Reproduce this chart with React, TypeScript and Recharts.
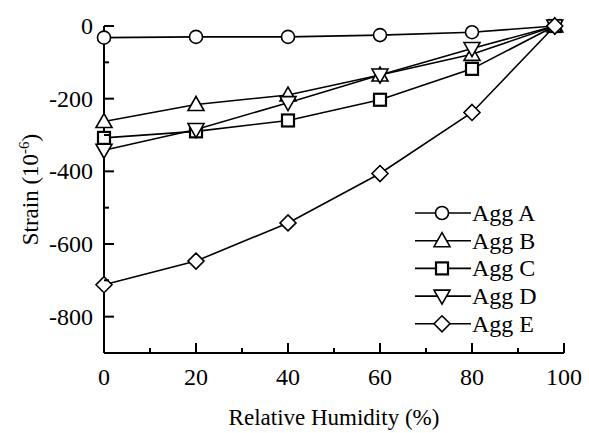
import React from 'react';
import { LineChart, Line, XAxis, YAxis } from 'recharts';

const humidity = [0, 20, 40, 60, 80, 98];
const aggA = [-32, -30, -30, -25, -17, 0];
const aggB = [-263, -216, -190, -135, -78, 0];
const aggC = [-308, -290, -260, -203, -118, 0];
const aggD = [-342, -285, -211, -135, -62, 0];
const aggE = [-712, -647, -542, -406, -238, 0];

const seriesNames = ['Agg A', 'Agg B', 'Agg C', 'Agg D', 'Agg E'];
const seriesShapes = ['circle', 'triangle', 'square', 'down', 'diamond'];
const xTicks = [0, 10, 20, 30, 40, 50, 60, 70, 80, 90, 100];
const yTicks = [0, -100, -200, -300, -400, -500, -600, -700, -800, -900];

const data = humidity.map((h, i) => ({
  h,
  a: aggA[i],
  b: aggB[i],
  c: aggC[i],
  d: aggD[i],
  e: aggE[i],
}));
const keys = ['a', 'b', 'c', 'd', 'e'];

const FONT = 'Liberation Serif, Times New Roman, serif';

function Marker({ cx, cy, shape }: { cx: number; cy: number; shape: string }) {
  const p = { fill: '#fff', stroke: '#000', strokeWidth: 1.6 };
  if (shape === 'circle') return <circle cx={cx} cy={cy} r={6.5} {...p} />;
  if (shape === 'square')
    return <rect x={cx - 6} y={cy - 6} width={12} height={12} {...p} strokeWidth={2.2} />;
  if (shape === 'triangle')
    return <polygon points={`${cx},${cy - 8} ${cx - 8},${cy + 6} ${cx + 8},${cy + 6}`} {...p} />;
  if (shape === 'down')
    return <polygon points={`${cx},${cy + 8} ${cx - 8},${cy - 6} ${cx + 8},${cy - 6}`} {...p} />;
  return <polygon points={`${cx},${cy - 8} ${cx + 8},${cy} ${cx},${cy + 8} ${cx - 8},${cy}`} {...p} />;
}

const isMajorX = (v: number) => v % 20 === 0;
const isMajorY = (v: number) => v % 200 === 0;

function BottomTick(props: any) {
  const { x, y, payload } = props;
  const major = isMajorX(payload.value);
  return (
    <g>
      <line x1={x} x2={x} y1={y} y2={y - (major ? 10 : 5)} stroke="#000" strokeWidth={2} />
      {major && (
        <text x={x} y={y + 32} textAnchor="middle" fontFamily={FONT} fontSize={24} fill="#000">
          {payload.value}
        </text>
      )}
    </g>
  );
}

function TopTick(props: any) {
  const { x, y, payload } = props;
  const major = isMajorX(payload.value);
  return <line x1={x} x2={x} y1={y} y2={y + (major ? 10 : 5)} stroke="#000" strokeWidth={2} />;
}

function LeftTick(props: any) {
  const { x, y, payload } = props;
  const major = isMajorY(payload.value);
  return (
    <g>
      <line x1={x} x2={x + (major ? 10 : 5)} y1={y} y2={y} stroke="#000" strokeWidth={2} />
      {major && (
        <text x={x - 11} y={y + 8} textAnchor="end" fontFamily={FONT} fontSize={24} fill="#000">
          {payload.value}
        </text>
      )}
    </g>
  );
}

function RightTick(props: any) {
  const { x, y, payload } = props;
  const major = isMajorY(payload.value);
  return <line x1={x} x2={x - (major ? 10 : 5)} y1={y} y2={y} stroke="#000" strokeWidth={2} />;
}

function YTitle(props: any) {
  const vb = props.viewBox;
  const cx = 30;
  const cy = vb.y + vb.height / 2;
  return (
    <text
      transform={`translate(${cx},${cy}) rotate(-90)`}
      textAnchor="middle"
      fontFamily={FONT}
      fontSize={23}
      fill="#000"
      dy={8}
    >
      Strain (10
      <tspan fontSize={15} dy={-9}>-6</tspan>
      <tspan dy={9}>)</tspan>
    </text>
  );
}

function XTitle(props: any) {
  const vb = props.viewBox;
  return (
    <text
      x={vb.x + vb.width / 2}
      y={vb.y + 72}
      textAnchor="middle"
      fontFamily={FONT}
      fontSize={23}
      fill="#000"
    >
      Relative Humidity (%)
    </text>
  );
}

function LegendBox() {
  return (
    <svg
      width={160}
      height={145}
      style={{ position: 'absolute', left: 412, top: 199, overflow: 'visible' }}
    >
      {seriesNames.map((name, i) => {
        const y = 14 + i * 27.7;
        return (
          <g key={name}>
            <line x1={3} x2={59} y1={y} y2={y} stroke="#000" strokeWidth={1.6} />
            <Marker cx={30} cy={y} shape={seriesShapes[i]} />
            <text x={60} y={y + 8} fontFamily={FONT} fontSize={24} fill="#000">
              {name}
            </text>
          </g>
        );
      })}
    </svg>
  );
}

export default function App() {
  return (
    <div style={{ position: 'absolute', left: 0, top: 0, width: 589, height: 433, background: '#fff' }}>
      <LineChart
        width={589}
        height={433}
        data={data}
        margin={{ top: 26, right: 25, bottom: 0, left: 0 }}
      >
        <XAxis
          xAxisId="bottom"
          dataKey="h"
          type="number"
          domain={[0, 100]}
          ticks={xTicks}
          interval={0}
          height={80}
          tickSize={0}
          tickMargin={0}
          tickLine={false}
          axisLine={{ stroke: '#000', strokeWidth: 2 }}
          tick={<BottomTick />}
          label={{ content: <XTitle /> }}
        />
        <XAxis
          xAxisId="top"
          orientation="top"
          dataKey="h"
          type="number"
          domain={[0, 100]}
          ticks={xTicks}
          interval={0}
          height={0}
          tickSize={0}
          tickMargin={0}
          tickLine={false}
          axisLine={{ stroke: '#000', strokeWidth: 2 }}
          tick={<TopTick />}
        />
        <YAxis
          yAxisId="left"
          type="number"
          domain={[-900, 0]}
          ticks={yTicks}
          interval={0}
          width={104}
          tickSize={0}
          tickMargin={0}
          tickLine={false}
          axisLine={{ stroke: '#000', strokeWidth: 2 }}
          tick={<LeftTick />}
          label={{ content: <YTitle /> }}
        />
        <YAxis
          yAxisId="right"
          orientation="right"
          type="number"
          domain={[-900, 0]}
          ticks={yTicks}
          interval={0}
          width={0}
          tickSize={0}
          tickMargin={0}
          tickLine={false}
          axisLine={{ stroke: '#000', strokeWidth: 2 }}
          tick={<RightTick />}
        />
        {keys.map((k, i) => (
          <Line
            key={k}
            xAxisId="bottom"
            yAxisId="left"
            dataKey={k}
            name={seriesNames[i]}
            stroke="#000"
            strokeWidth={1.6}
            isAnimationActive={false}
            dot={(p: any) => <Marker key={p.index} cx={p.cx} cy={p.cy} shape={seriesShapes[i]} />}
          />
        ))}
      </LineChart>
      <LegendBox />
    </div>
  );
}
